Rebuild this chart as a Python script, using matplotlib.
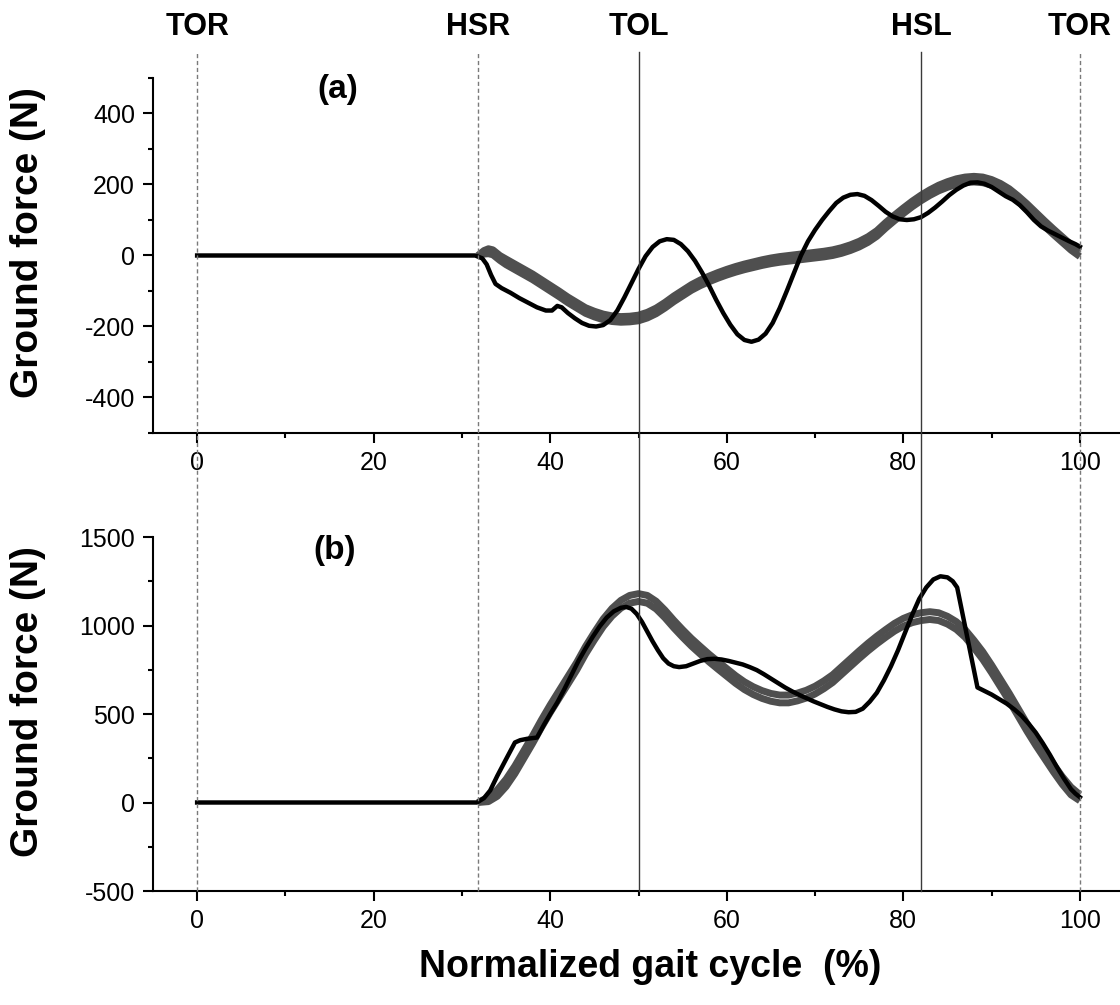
import matplotlib
matplotlib.use("Agg")
import matplotlib.pyplot as plt
from matplotlib.lines import Line2D
from matplotlib.transforms import blended_transform_factory
from matplotlib.ticker import MultipleLocator, FixedLocator

plt.rcParams['font.family'] = ['Liberation Sans', 'DejaVu Sans']
plt.rcParams['axes.unicode_minus'] = False

# ---------------- data ----------------
# gait events
event_names = ['TOR', 'HSR', 'TOL', 'HSL', 'TOR']
event_pos = [0, 31.8, 50, 82, 100]
event_dashed = [True, True, False, False, True]

# panel (a): measured (black)
a_meas_x = [0, 31.5, 32.3, 32.8, 33.3, 33.8, 34.5, 35.5, 36.5, 37.5, 38.5, 39.5, 40.2, 40.8, 41.3, 42, 42.8, 43.6, 44.4, 45.2,
            46, 46.8, 47.6, 48.4, 49.2, 50, 50.8, 51.6, 52.4, 53.2, 54, 54.8, 55.6, 56.4, 57.2, 58, 58.8, 59.6, 60.4, 61.2,
            62, 62.8, 63.6, 64.4, 65.2, 66, 66.8, 67.6, 68.4, 69.2, 70, 70.8, 71.6, 72.4, 73.2, 74, 74.8, 75.6, 76.4, 77.2,
            78, 78.8, 79.6, 80.4, 81.2, 82, 82.8, 83.6, 84.4, 85.2, 86, 86.8, 87.6, 88.4, 89.2, 90, 90.8, 91.6, 92.4, 93.2,
            94, 94.8, 95.6, 96.4, 97.2, 98, 98.8, 99.5, 100]
a_meas_y = [0, 0, -8, -25, -55, -80, -92, -105, -120, -133, -146, -155, -155, -142, -146, -162, -177, -190, -198, -200,
            -196, -182, -155, -118, -78, -38, -2, 24, 40, 46, 44, 32, 12, -15, -48, -85, -125, -162, -195, -222,
            -238, -243, -237, -220, -190, -148, -100, -50, 0, 40, 72, 100, 125, 148, 163, 171, 173, 168, 156, 140,
            123, 110, 102, 100, 102, 108, 120, 135, 152, 170, 185, 197, 205, 206, 202, 193, 180, 167, 157, 142,
            122, 100, 82, 70, 60, 50, 40, 32, 25]

# panel (a): model predictions (grey)
a_model_x = [31.8, 32.5, 33, 33.5, 34.3, 35] + list(range(36, 101))
a_model1_y = [0, 14, 19, 16, 0, -10,
              -24, -38, -52, -68, -84, -100, -117, -132, -147, -157,
              -165, -170, -172, -171, -168, -160, -148, -132, -114, -98,
              -82, -69, -58, -48, -39, -31, -24, -18, -12, -7,
              -3, 0, 3, 6, 9, 12, 16, 22, 30, 40,
              53, 70, 93, 114, 134, 153, 170, 185, 198, 208,
              216, 221, 223, 221, 214, 203, 188, 168, 146, 122,
              98, 75, 53, 31, 11]
a_model2_y = [0, 4, 5, 2, -14, -26,
              -40, -54, -68, -84, -100, -116, -133, -148, -163, -173,
              -181, -186, -188, -187, -184, -176, -164, -148, -130, -114,
              -98, -85, -74, -64, -55, -47, -40, -34, -28, -23,
              -19, -16, -13, -10, -7, -4, 0, 6, 14, 24,
              37, 54, 77, 98, 118, 137, 154, 169, 182, 192,
              200, 205, 207, 205, 198, 187, 172, 152, 130, 106,
              82, 59, 37, 15, -3]

# panel (b): measured (black)
b_meas_x = [0, 31.7, 32.5, 33.2, 34, 35, 36, 36.6, 37.4, 38.5, 39.3, 40, 40.8, 41.6, 42.4, 43.2, 44, 44.8, 45.6, 46.4,
            47.2, 48, 48.6, 49.2, 49.8, 50.4, 51, 51.6, 52.2, 52.8, 53.4, 54, 54.6, 55.4, 56.2, 57, 57.8, 58.6, 59.4, 60.2,
            61, 61.8, 62.6, 63.4, 64.2, 65, 65.8, 66.6, 67.4, 68.2, 69, 69.8, 70.6, 71.4, 72.2, 73, 73.8, 74.6, 75.4, 76.2,
            77, 77.8, 78.6, 79.4, 80.2, 81, 81.8, 82.6, 83.4, 84.2, 85, 85.6, 86.1, 88.4, 90, 91.7, 92.6, 93.4, 94.2, 95,
            95.8, 96.6, 97.4, 98.2, 99, 99.5, 100]
b_meas_y = [0, 0, 25, 68, 150, 245, 339, 352, 360, 367, 440, 500, 565, 640, 720, 800, 870, 935, 995, 1045,
            1080, 1100, 1105, 1095, 1065, 1020, 965, 910, 860, 815, 785, 770, 765, 770, 785, 800, 810, 812, 808, 800,
            790, 780, 765, 748, 725, 700, 675, 650, 628, 608, 590, 572, 556, 540, 526, 515, 510, 512, 530, 570,
            620, 690, 770, 860, 960, 1060, 1150, 1215, 1260, 1278, 1272, 1250, 1215, 650, 610, 559, 525, 490, 445, 395,
            335, 270, 200, 135, 75, 50, 30]

# panel (b): model predictions (grey)
b_model_x = [31.8, 33] + list(range(34, 101))
b_model1_y = [0, 30, 72, 132, 207, 292, 377, 467, 552, 632,
              712, 792, 882, 962, 1037, 1097, 1142, 1170, 1180, 1170,
              1137, 1087, 1030, 977, 927, 882, 838, 797, 757, 717,
              682, 654, 632, 616, 607, 607, 618, 634, 657, 687,
              722, 767, 812, 857, 900, 940, 977, 1012, 1040, 1060,
              1072, 1078, 1072, 1052, 1022, 977, 917, 852, 777, 697,
              617, 532, 447, 367, 292, 217, 147, 87, 45]
b_model2_y = [0, 5, 35, 90, 163, 248, 333, 423, 508, 588,
              668, 748, 838, 918, 993, 1053, 1098, 1126, 1136, 1126,
              1093, 1043, 986, 933, 883, 838, 794, 753, 713, 673,
              638, 610, 588, 572, 563, 563, 574, 590, 613, 643,
              678, 723, 768, 813, 856, 896, 933, 968, 996, 1016,
              1028, 1034, 1028, 1008, 978, 933, 873, 808, 733, 653,
              573, 488, 403, 323, 248, 173, 103, 43, 10]

# axis ticks
a_yticks = [-400, -200, 0, 200, 400]
b_yticks = [-500, 0, 500, 1000, 1500]
x_ticks = [0, 20, 40, 60, 80, 100]

# ---------------- figure ----------------
W, H = 1120, 1005
fig = plt.figure(figsize=(W / 100, H / 100), dpi=100)

ax_left = 153 / W
ax_width = (1124 - 153) / W
ax1 = fig.add_axes([ax_left, 1 - 433 / H, ax_width, (433 - 78) / H])
ax2 = fig.add_axes([ax_left, 1 - 891 / H, ax_width, (891 - 537) / H])

grey = '#4f4f4f'
for ax, mx, m1, m2, bx, by in [
    (ax1, a_model_x, a_model1_y, a_model2_y, a_meas_x, a_meas_y),
    (ax2, b_model_x, b_model1_y, b_model2_y, b_meas_x, b_meas_y),
]:
    ax.plot(mx, m1, color=grey, lw=5, solid_capstyle='butt', zorder=2)
    ax.plot(mx, m2, color=grey, lw=5, solid_capstyle='butt', zorder=2)
    ax.plot(bx, by, color='black', lw=3.2, solid_joinstyle='round', zorder=3)

ax1.set_ylim(-500, 500)
ax2.set_ylim(-500, 1500)
ax1.yaxis.set_major_locator(FixedLocator(a_yticks))
ax1.yaxis.set_minor_locator(MultipleLocator(100))
ax2.yaxis.set_major_locator(FixedLocator(b_yticks))
ax2.yaxis.set_minor_locator(MultipleLocator(250))

for ax in (ax1, ax2):
    ax.set_xlim(-5, 105)
    ax.xaxis.set_major_locator(FixedLocator(x_ticks))
    ax.xaxis.set_minor_locator(MultipleLocator(10))
    ax.spines['top'].set_visible(False)
    ax.spines['right'].set_visible(False)
    ax.spines['left'].set_linewidth(1.5)
    ax.spines['bottom'].set_linewidth(1.5)
    ax.tick_params(which='major', direction='out', length=7, width=1.5, labelsize=18, pad=6, colors='black')
    ax.tick_params(which='minor', direction='out', length=3.5, width=1.5)
    ax.patch.set_alpha(0)

ax1.text(15.9, 468, '(a)', fontsize=24, fontweight='bold', ha='center', va='center')
ax2.text(15.6, 1424, '(b)', fontsize=24, fontweight='bold', ha='center', va='center')

# event lines spanning both panels
trans = blended_transform_factory(ax2.transData, fig.transFigure)
y_top = 1 - 52 / H
y_bot = 1 - 891 / H
for name, xp, dashed in zip(event_names, event_pos, event_dashed):
    if dashed:
        ln = Line2D([xp, xp], [y_bot, y_top], transform=trans, color='#7a7a7a', lw=1.0,
                    linestyle=(0, (3, 2)))
    else:
        ln = Line2D([xp, xp], [y_bot, y_top], transform=trans, color='#3a3a3a', lw=1.0)
    fig.add_artist(ln)
    fig.text(xp, 1 - 27 / H, name, transform=trans, ha='center', va='center',
             fontsize=22, fontweight='bold')

fig.text(28 / W, 1 - 243 / H, 'Ground force (N)', rotation=90, ha='center', va='center',
         fontsize=28, fontweight='bold')
fig.text(28 / W, 1 - 702 / H, 'Ground force (N)', rotation=90, ha='center', va='center',
         fontsize=28, fontweight='bold')
fig.text(650 / W, 1 - 967 / H, 'Normalized gait cycle  (%)', ha='center', va='center',
         fontsize=27, fontweight='bold')

fig.savefig('out.png', dpi=100)
